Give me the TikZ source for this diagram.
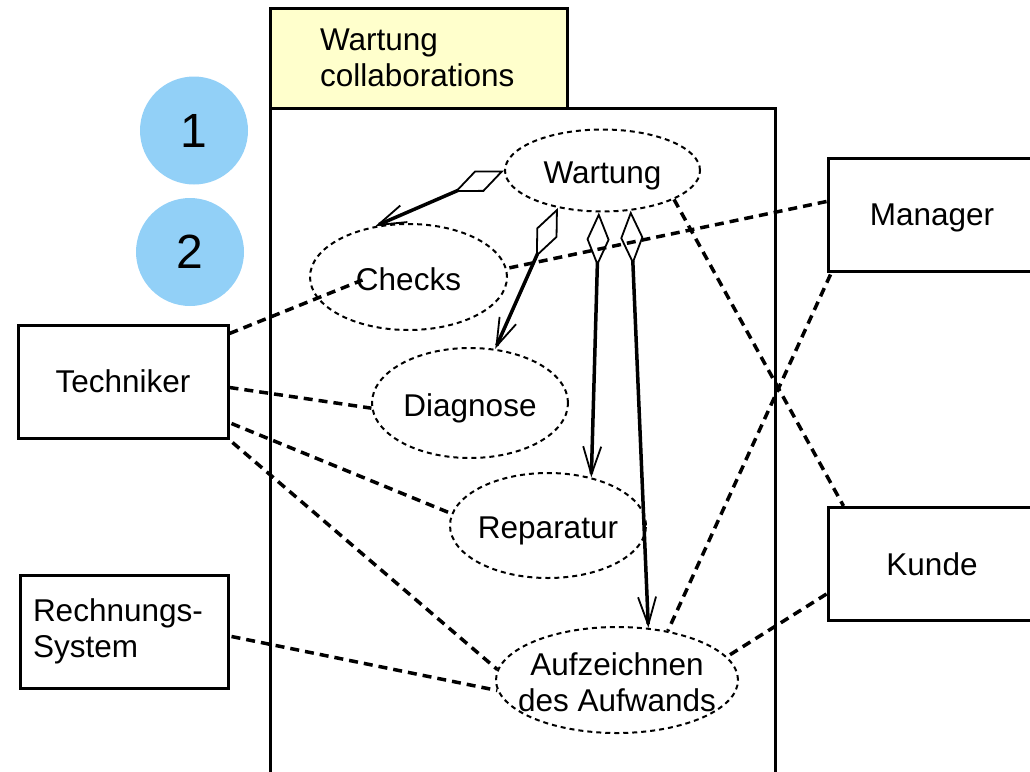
\documentclass[tikz,border=0pt]{standalone}
\usepackage{fontspec}
\setmainfont{Liberation Sans}
\usetikzlibrary{shapes.geometric,arrows.meta,calc}
\definecolor{stepblue}{RGB}{146,208,247}
\definecolor{tabyellow}{RGB}{255,255,204}
\newcommand{\ucfont}{\fontsize{31.5pt}{36pt}\selectfont}
\newcommand{\numfont}{\fontsize{48pt}{52pt}\selectfont}

\begin{document}
\begin{tikzpicture}[x=1pt,y=-1pt,
  every node/.style={font=\ucfont},
  every label/.style={text depth=0pt,yshift=-2pt},
  usecase/.style={ellipse,draw,line width=2pt,dash pattern=on 5pt off 4pt,inner sep=0pt},
  actor/.style={rectangle,draw,line width=3pt,minimum height=113pt,text depth=0pt},
  stepcircle/.style={circle,fill=stepblue,minimum size=108pt,font=\numfont},
  conn/.style={line width=3.5pt,dash pattern=on 9pt off 6pt},
  agg/.style={line width=3.5pt,{Diamond[open,length=54pt,width=23pt,line width'=1.8pt]}-{Straight Barb[length=28pt,width=18pt,line width'=1.8pt]}}]
\useasboundingbox (0,0) rectangle (1030,771);

% package frame
\node[draw,line width=3pt,minimum width=505pt,minimum height=667pt] (frame) at (522.5,441.5) {};
\node[draw,line width=3pt,fill=tabyellow,minimum height=100pt,inner xsep=50pt,text width=197pt,align=left] (tab) at (418.5,58) {Wartung\\collaborations};

\node[stepcircle] (one) at (194,130.5) {1};
\node[stepcircle] (two) at (190,252) {2};

% use cases
\node[usecase,minimum width=195pt,minimum height=82pt,label=center:Wartung] (wartung) at (602.5,170.5) {};
\node[usecase,minimum width=197pt,minimum height=106pt,label=center:Checks] (checks) at (408.5,277) {};
\node[usecase,minimum width=196pt,minimum height=110pt,label=center:Diagnose] (diagnose) at (470,403) {};
\node[usecase,minimum width=196pt,minimum height=105pt,label=center:Reparatur] (reparatur) at (548,525.5) {};
\node[usecase,minimum width=242pt,minimum height=106pt,label={[align=center]center:{Aufzeichnen\\des Aufwands}}] (aufwand) at (617,680) {};

% actors
\node[actor,minimum width=210pt] (techniker) at (123,381.5) {Techniker};
\node[actor,minimum width=208pt,text width=182pt,inner xsep=13pt,align=left,text depth=] (rechnung) at (124,631.5) {Rechnungs-\\System};
\node[actor,minimum width=208pt] (manager) at (932,214.5) {Manager};
\node[actor,minimum width=208pt] (kunde) at (932,564) {Kunde};

\draw[conn] ($(techniker.north east)+(0,10)$) -- ($(checks.center)+(-46,3)$);
\draw[conn] ($(techniker.east)+(0,6)$) -- (diagnose.183);
\draw[conn] ($(techniker.east)+(2,42)$) -- (reparatur.173);
\draw[conn] ($(techniker.south east)+(3,3)$) -- (aufwand.175);
\draw[conn] ($(rechnung.east)+(2,5)$) -- (aufwand.185);
\draw[conn] ($(manager.west)+(0,-13)$) -- (checks.5);
\draw[conn] ($(manager.south west)+(4,2)$) -- (aufwand.44);
\draw[conn] ($(kunde.south west)+(0,-28)$) -- (aufwand.12);
\draw[conn] (wartung.338) -- ($(kunde.north west)+(17,0)$);

\draw[agg] (wartung.west) -- (checks.123);
\draw[agg] (wartung.220) -- (diagnose.65);
\draw[agg] (wartung.265) -- (reparatur.48);
\draw[agg] (wartung.305) -- (aufwand.59);
\end{tikzpicture}
\end{document}
